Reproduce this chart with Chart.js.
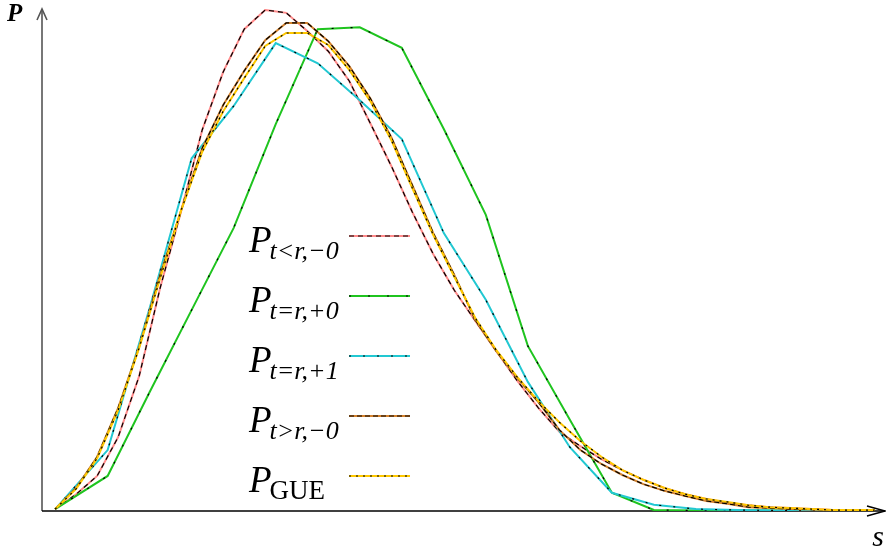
<!DOCTYPE html>
<html><head><meta charset="utf-8">
<script src="https://cdn.jsdelivr.net/npm/chart.js@4"></script>
<style>html,body{margin:0;padding:0;background:#fff}</style>
</head><body>
<canvas id="c" width="886" height="554"></canvas>
<script>
// spacing s (fine bins) and coarse bins
const sFine = [0,0.08,0.16,0.24,0.32,0.40,0.48,0.56,0.64,0.72,0.80,0.88,0.96,1.04,1.12,1.20,1.28,1.36,1.44,1.52,1.60,1.68,1.76,1.84,1.92,2.00,2.08,2.16,2.24,2.32,2.40,2.48,2.56,2.64,2.72,2.80,2.88,2.96,3.04,3.12];
const sCoarse = [0,0.20,0.36,0.52,0.68,0.84,1.00,1.16,1.32,1.48,1.64,1.80,1.96,2.12,2.28,2.44,2.60,2.76,2.92,3.08];

const pLessMinus0 = [0.004,0.035,0.073,0.154,0.281,0.465,0.625,0.794,0.915,1.004,1.044,1.038,1.000,0.958,0.896,0.808,0.719,0.623,0.535,0.460,0.396,0.333,0.271,0.215,0.165,0.135,0.108,0.085,0.065,0.048,0.035,0.025,0.017,0.012,0.008,0.006,0.004,0.002,0.002,0.002];
const pEqPlus0 = [0.004,0.073,0.248,0.419,0.590,0.806,1.004,1.008,0.965,0.796,0.617,0.344,0.190,0.038,0.002,0.001,0.001,0.001,0.001,0.001];
const pEqPlus1 = [0.004,0.127,0.423,0.735,0.844,0.975,0.933,0.856,0.775,0.579,0.440,0.269,0.133,0.038,0.013,0.004,0.002,0.001,0.001,0.001];
const pGreaterMinus0 = [0.004,0.048,0.113,0.215,0.342,0.492,0.627,0.756,0.846,0.917,0.981,1.017,1.017,0.979,0.927,0.860,0.779,0.679,0.579,0.492,0.398,0.333,0.277,0.227,0.169,0.127,0.098,0.075,0.056,0.042,0.031,0.021,0.015,0.008,0.006,0.004,0.003,0.002,0.002,0.002];
const pGUE = [0.004,0.046,0.110,0.210,0.340,0.485,0.627,0.748,0.833,0.902,0.969,0.996,0.996,0.971,0.919,0.854,0.773,0.673,0.575,0.488,0.402,0.335,0.279,0.229,0.185,0.146,0.113,0.085,0.065,0.048,0.035,0.025,0.019,0.012,0.008,0.006,0.004,0.002,0.002,0.002];

const legendSubs = ['t<r,\u22120','t=r,+0','t=r,+1','t>r,\u22120','GUE'];
const legendItalicSub = [true,true,true,true,false];

const seriesDefs = [
  {s: sFine,   p: pLessMinus0,    color:'#ff8a8a', dash:[5,4]},
  {s: sCoarse, p: pEqPlus0,       color:'#1fc41f', dash:[2,17]},
  {s: sCoarse, p: pEqPlus1,       color:'#22c8d2', dash:[2,12]},
  {s: sFine,   p: pGreaterMinus0, color:'#d4822e', dash:[5,3]},
  {s: sFine,   p: pGUE,           color:'#ffc800', dash:[2,5]}
];

const datasets = [];
seriesDefs.forEach((d,i) => {
  const pts = d.s.map((s,j)=>({x:s, y:d.p[j]}));
  datasets.push({data:pts, borderColor:d.color, borderWidth:2, pointRadius:0, tension:0, fill:false, order: 20 - 2*i});
  datasets.push({data:pts, borderColor:'#000', borderWidth:1.2, borderDash:d.dash, pointRadius:0, tension:0, fill:false, order: 19 - 2*i});
});

const decor = {
  id:'decor',
  beforeDatasetsDraw(chart){
    const {ctx, chartArea:a} = chart;
    ctx.save();
    ctx.strokeStyle='#555'; ctx.lineWidth=1.6;
    ctx.beginPath(); ctx.moveTo(a.left, a.bottom); ctx.lineTo(a.left, a.top); ctx.stroke();
    ctx.beginPath(); ctx.moveTo(a.left-5, a.top+11); ctx.lineTo(a.left, a.top); ctx.lineTo(a.left+5, a.top+11); ctx.stroke();
    ctx.strokeStyle='#000'; ctx.lineWidth=1.6;
    ctx.beginPath(); ctx.moveTo(a.left, a.bottom); ctx.lineTo(a.right, a.bottom); ctx.stroke();
    ctx.beginPath(); ctx.moveTo(a.right-18, a.bottom-5); ctx.lineTo(a.right, a.bottom); ctx.lineTo(a.right-18, a.bottom+5); ctx.stroke();
    ctx.restore();
  },
  afterDatasetsDraw(chart){
    const {ctx, chartArea:a} = chart;
    ctx.save();
    ctx.fillStyle='#000';
    ctx.textBaseline='alphabetic';
    ctx.font='italic bold 25px "Liberation Serif"';
    ctx.textAlign='left';
    ctx.fillText('P', a.left-35, a.top+12);
    ctx.font='italic 30px "Liberation Serif"';
    ctx.textAlign='right';
    ctx.fillText('s', a.right-1, a.bottom+35);
    ctx.textAlign='left';
    const x0 = 249, y0 = 252, gap = 60;
    legendSubs.forEach((sub,i)=>{
      const by = y0 + gap*i;
      ctx.fillStyle='#000';
      ctx.font='italic 37px "Liberation Serif"';
      ctx.fillText('P', x0, by);
      const w = ctx.measureText('P').width;
      ctx.font = legendItalicSub[i] ? 'italic 26px "Liberation Serif"' : '27px "Liberation Serif"';
      ctx.fillText(sub, x0 + w - 2, by + 7);
      const ly = 236 + gap*i;
      const d = seriesDefs[i];
      ctx.setLineDash([]);
      ctx.strokeStyle=d.color; ctx.lineWidth=2.2;
      ctx.beginPath(); ctx.moveTo(349, ly); ctx.lineTo(410, ly); ctx.stroke();
      ctx.setLineDash(d.dash);
      ctx.strokeStyle='#000'; ctx.lineWidth=1.2;
      ctx.beginPath(); ctx.moveTo(349, ly); ctx.lineTo(410, ly); ctx.stroke();
    });
    ctx.restore();
  }
};

new Chart(document.getElementById('c'), {
  type:'line',
  data:{datasets},
  options:{
    responsive:false,
    animation:false,
    devicePixelRatio:1,
    layout:{padding:{left:42, right:1, top:9, bottom:43}},
    plugins:{legend:{display:false}, tooltip:{enabled:false}},
    scales:{
      x:{type:'linear', min:-0.05, max:3.16, display:false},
      y:{type:'linear', min:0, max:1.046, display:false}
    }
  },
  plugins:[decor]
});
</script>
</body></html>
